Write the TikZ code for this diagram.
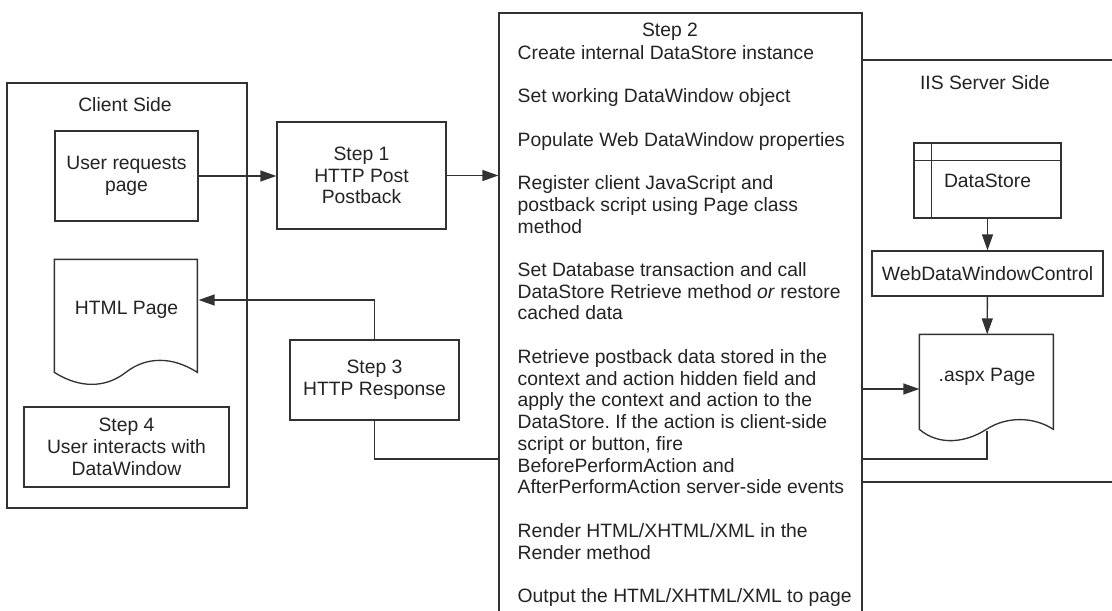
\documentclass[tikz,border=0pt]{standalone}
\usepackage{fontspec}
\setmainfont{Liberation Sans}
\usepackage{xcolor}
\usepackage{tikz}
\usetikzlibrary{arrows.meta, positioning, calc}
\frenchspacing

\definecolor{linec}{RGB}{50,50,50}
\definecolor{textc}{RGB}{35,35,35}

\begin{document}
\begin{tikzpicture}[
    x=0.02cm, y=-0.02cm, line width=0.75pt,
    box/.style={rectangle, draw=linec, fill=white, line width=0.75pt, align=center, inner sep=0pt, text=textc, font=\fontsize{11pt}{12.4pt}\selectfont},
    doc/.style={rectangle, draw=none, align=center, inner sep=0pt, text=textc, font=\fontsize{11pt}{12.4pt}\selectfont},
    lbl/.style={inner sep=0pt, text=textc, font=\fontsize{11pt}{12.37pt}\selectfont},
    arr/.style={draw=linec, -{Triangle[length=0.32cm, width=0.22cm]}},
    wire/.style={draw=linec}
]
\useasboundingbox (0,0) rectangle (1112,611);
\clip (0,0) rectangle (1112,611);
\fill[white] (0,0) rectangle (1112,611);

% Server side (open to the right)
\node[box, minimum width=5.36cm, minimum height=8.44cm] (server) at (996,271) {};
\node[lbl] (serverlbl) at (985,83) {IIS Server Side};

% Step 2
\node[box, minimum width=7.26cm, minimum height=12.54cm] (step2) at (680.5,326.5) {};
\node[lbl, anchor=base] (step2head) at (670,37) {Step 2};
\node[lbl, anchor=north west, align=left] (step2body) at (517,44.5) {Create internal DataStore instance\\[12.37pt]
Set working DataWindow object\\[12.37pt]
Populate Web DataWindow properties\\[12.37pt]
Register client JavaScript and\\
postback script using Page class\\
method\\[12.37pt]
Set Database transaction and call\\
DataStore Retrieve method \textit{or} restore\\
cached data\\[12.37pt]
Retrieve postback data stored in the\\
context and action hidden field and\\
apply the context and action to the\\
DataStore. If the action is client-side\\
script or button, fire\\
BeforePerformAction and\\
AfterPerformAction server-side events\\[12.37pt]
Render HTML/XHTML/XML in the\\
Render method\\[12.37pt]
Output the HTML/XHTML/XML to page};

% Client side
\node[box, minimum width=4.8cm, minimum height=8.5cm] (client) at (127,295.5) {};
\node[lbl] (clientlbl) at (125,105) {Client Side};
\node[box, minimum width=2.86cm, minimum height=1.8cm] (userreq) at (126.5,176) {User requests\\page};
\node[doc, minimum width=2.86cm, minimum height=2cm] (htmlpg) at (126.5,310) {HTML Page};
\draw[linec, shift={(htmlpg.north west)}] (0,0) -- (143,0) -- (143,113)
    .. controls (118,97) and (92,97) .. (71.5,113)
    .. controls (51,129) and (25,129) .. (0,113) -- cycle;
\node[box, minimum width=4.1cm, minimum height=1.6cm] (step4) at (126.5,447) {Step 4\\User interacts with\\DataWindow};

% Steps 1 and 3
\node[box, minimum width=3.38cm, minimum height=2.14cm] (step1) at (361.5,175.5) {Step 1\\HTTP Post\\Postback};
\node[box, minimum width=3.38cm, minimum height=1.6cm] (step3) at (374.5,380) {Step 3\\HTTP Response};

% Server side objects
\node[box, minimum width=2.94cm, minimum height=1.5cm] (datastore) at (987.5,180.5) {DataStore};
\draw[linec] ([yshift=-0.36cm]datastore.north west) -- ([yshift=-0.36cm]datastore.north east);
\draw[linec] ([xshift=0.36cm]datastore.north west) -- ([xshift=0.36cm]datastore.south west);
\node[box, minimum width=4.62cm, minimum height=0.9cm] (wdwc) at (987.5,273.5) {WebDataWindowControl};
\node[doc, minimum width=2.68cm, minimum height=1.68cm] (aspx) at (987,377) {.aspx Page};
\draw[linec, shift={(aspx.north west)}] (0,0) -- (134,0) -- (134,95)
    .. controls (114,82) and (87,82) .. (67,95)
    .. controls (47,108) and (20,112) .. (0,95) -- cycle;

% Connectors
\draw[arr] (userreq.east) -- (userreq.east -| step1.west);
\draw[arr] (step1.east) -- (step1.east -| step2.west);
\draw[wire] (step3.south) |- (step2.west |- 0,459);
\draw[arr] (step3.north) |- ([yshift=0.2cm]htmlpg.east);
\draw[arr] (datastore) -- (wdwc);
\draw[arr] (wdwc) -- (aspx);
\draw[arr] (step2.east |- 0,389) -- (aspx.west |- 0,389);
\draw[wire] ([yshift=-0.22cm]aspx.south) |- (step2.east |- 0,459);

\end{tikzpicture}
\end{document}
